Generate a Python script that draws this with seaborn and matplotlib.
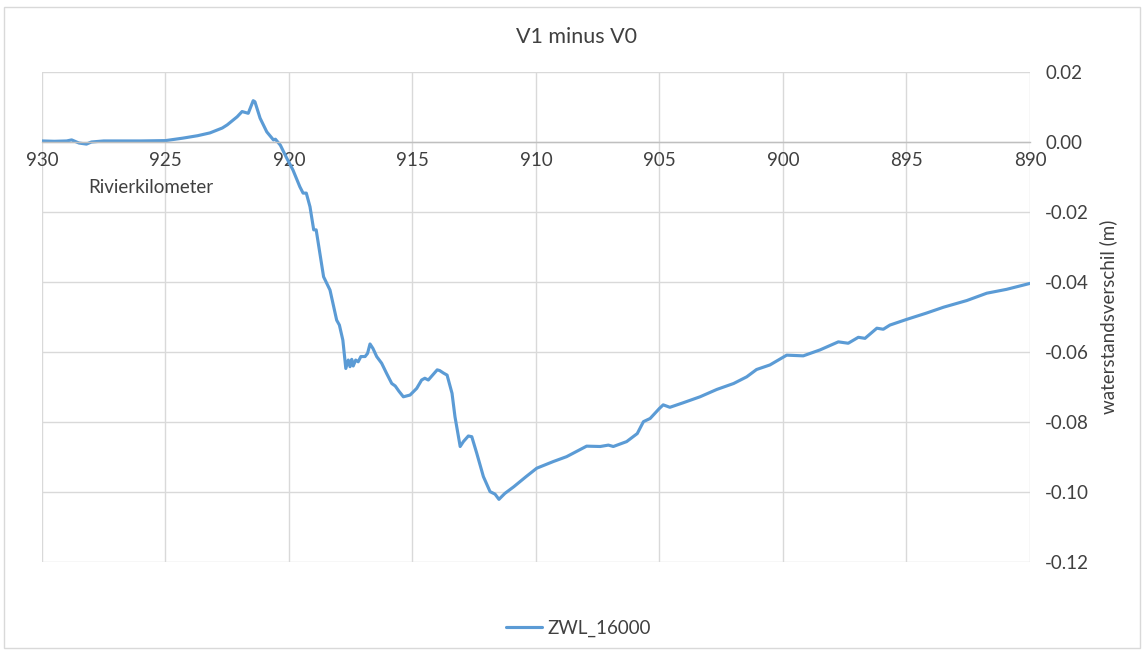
import pandas as pd
import numpy as np
import seaborn as sns
import matplotlib.pyplot as plt
from matplotlib.patches import Rectangle

# river km (descending) and water level difference V1 - V0 (m)
km = [930.0, 929.5, 929.0, 928.8, 928.5, 928.2, 928.0, 927.5, 927.0, 926.0,
      925.0, 924.8, 924.3, 923.7, 923.2, 922.7, 922.5, 922.1, 921.9, 921.65,
      921.45, 921.38, 921.17, 920.9, 920.63, 920.55, 920.35, 920.1, 919.84, 919.56,
      919.43, 919.3, 919.15, 919.0, 918.9, 918.6, 918.34, 918.07, 917.96, 917.82,
      917.7, 917.6, 917.53, 917.46, 917.4, 917.3, 917.2, 917.09, 916.92, 916.82,
      916.72, 916.6, 916.45, 916.25, 916.05, 915.84, 915.7, 915.55, 915.37, 915.1,
      914.83, 914.63, 914.5, 914.36, 914.0, 913.9, 913.75, 913.6, 913.4, 913.28,
      913.07, 912.94, 912.74, 912.6, 912.4, 912.13, 911.86, 911.66, 911.5, 911.26,
      910.9, 910.4, 909.97, 909.3, 908.76, 907.95, 907.4, 907.07, 906.87, 906.33,
      905.9, 905.65, 905.38, 905.0, 904.85, 904.58, 904.04, 903.36, 902.68, 902.0,
      901.47, 901.07, 900.53, 899.85, 899.18, 898.5, 897.76, 897.36, 896.95, 896.68,
      896.2, 895.94, 895.67, 895.0, 894.2, 893.5, 892.56, 891.75, 890.95, 890.0]
zwl_16000 = [0.0003, 0.0002, 0.0003, 0.0006, -0.0003, -0.0006, 0.0000, 0.0003, 0.0003, 0.0003,
             0.0004, 0.0006, 0.0011, 0.0018, 0.0026, 0.0040, 0.0049, 0.0072, 0.0087, 0.0082,
             0.0118, 0.0115, 0.0068, 0.0029, 0.0006, 0.0008, -0.0009, -0.0045, -0.0080, -0.0128,
             -0.0146, -0.0146, -0.0185, -0.0251, -0.0251, -0.0385, -0.0423, -0.0509, -0.0523, -0.0566,
             -0.0647, -0.0623, -0.0642, -0.0621, -0.0640, -0.0623, -0.0628, -0.0613, -0.0613, -0.0604,
             -0.0577, -0.0590, -0.0613, -0.0632, -0.0661, -0.0690, -0.0697, -0.0712, -0.0728, -0.0723,
             -0.0704, -0.0680, -0.0675, -0.0680, -0.0651, -0.0653, -0.0660, -0.0666, -0.0718, -0.0785,
             -0.0870, -0.0856, -0.0840, -0.0842, -0.0889, -0.0956, -0.0999, -0.1006, -0.1021, -0.1004,
             -0.0985, -0.0956, -0.0932, -0.0913, -0.0899, -0.0869, -0.0870, -0.0866, -0.0870, -0.0856,
             -0.0833, -0.0799, -0.0790, -0.0761, -0.0751, -0.0758, -0.0745, -0.0728, -0.0707, -0.0690,
             -0.0671, -0.0650, -0.0637, -0.0609, -0.0611, -0.0594, -0.0571, -0.0575, -0.0558, -0.0561,
             -0.0532, -0.0535, -0.0523, -0.0507, -0.0489, -0.0472, -0.0453, -0.0432, -0.0421, -0.0404]

x_ticks = [930, 925, 920, 915, 910, 905, 900, 895, 890]
y_ticks = [0.02, 0.00, -0.02, -0.04, -0.06, -0.08, -0.10, -0.12]

df = pd.DataFrame({"km": km, "ZWL_16000": zwl_16000})

sns.set_style("white")
plt.rcParams["font.family"] = ["Lato", "DejaVu Sans"]

fig = plt.figure(figsize=(11.44, 6.52), dpi=100)
ax = fig.add_axes([42 / 1144, 1 - 562 / 652, 988 / 1144, 490 / 652])

# outer chart border
fig.patches.append(Rectangle((4 / 1144, 4 / 652), 1136 / 1144, 641 / 652,
                             transform=fig.transFigure, fill=False,
                             edgecolor="#d9d9d9", linewidth=1))

sns.lineplot(data=df, x="km", y="ZWL_16000", ax=ax, color="#5b9bd5",
             linewidth=2.25, label="ZWL_16000", sort=False, legend=False)

ax.set_xlim(930, 890)
ax.set_ylim(-0.12, 0.02)
ax.set_xticks(x_ticks)
ax.set_xticklabels([str(t) for t in x_ticks])
ax.set_yticks(y_ticks)
ax.set_yticklabels([f"{t:.2f}" for t in y_ticks])
ax.grid(True, color="#d9d9d9", linewidth=1)
ax.set_axisbelow(True)

for s in ["top", "left", "right"]:
    ax.spines[s].set_visible(False)
ax.spines["bottom"].set_position(("data", 0))
ax.spines["bottom"].set_color("#bfbfbf")
ax.spines["bottom"].set_linewidth(1)

ax.yaxis.tick_right()
ax.yaxis.set_label_position("right")
ax.tick_params(axis="both", length=0, labelsize=13.5, colors="#404040")
ax.tick_params(axis="y", pad=11)
ax.tick_params(axis="x", pad=7)
for lab in ax.get_yticklabels():
    lab.set_horizontalalignment("left")

ax.set_xlabel("")
ax.set_ylabel("waterstandsverschil (m)", fontsize=13.5, color="#404040", labelpad=7)
ax.text(0.110, 0.765, "Rivierkilometer", transform=ax.transAxes,
        ha="center", va="center", fontsize=13.5, color="#404040")

fig.text(0.504, 1 - 37 / 652, "V1 minus V0", ha="center", va="center",
         fontsize=15.5, color="#404040")

handles, labels = ax.get_legend_handles_labels()
fig.legend(handles, labels, loc="center", bbox_to_anchor=(0.506, 1 - 628 / 652),
           frameon=False, fontsize=13.5, handlelength=1.9, handletextpad=0.3,
           labelcolor="#404040")

fig.savefig("out.png", dpi=100)
